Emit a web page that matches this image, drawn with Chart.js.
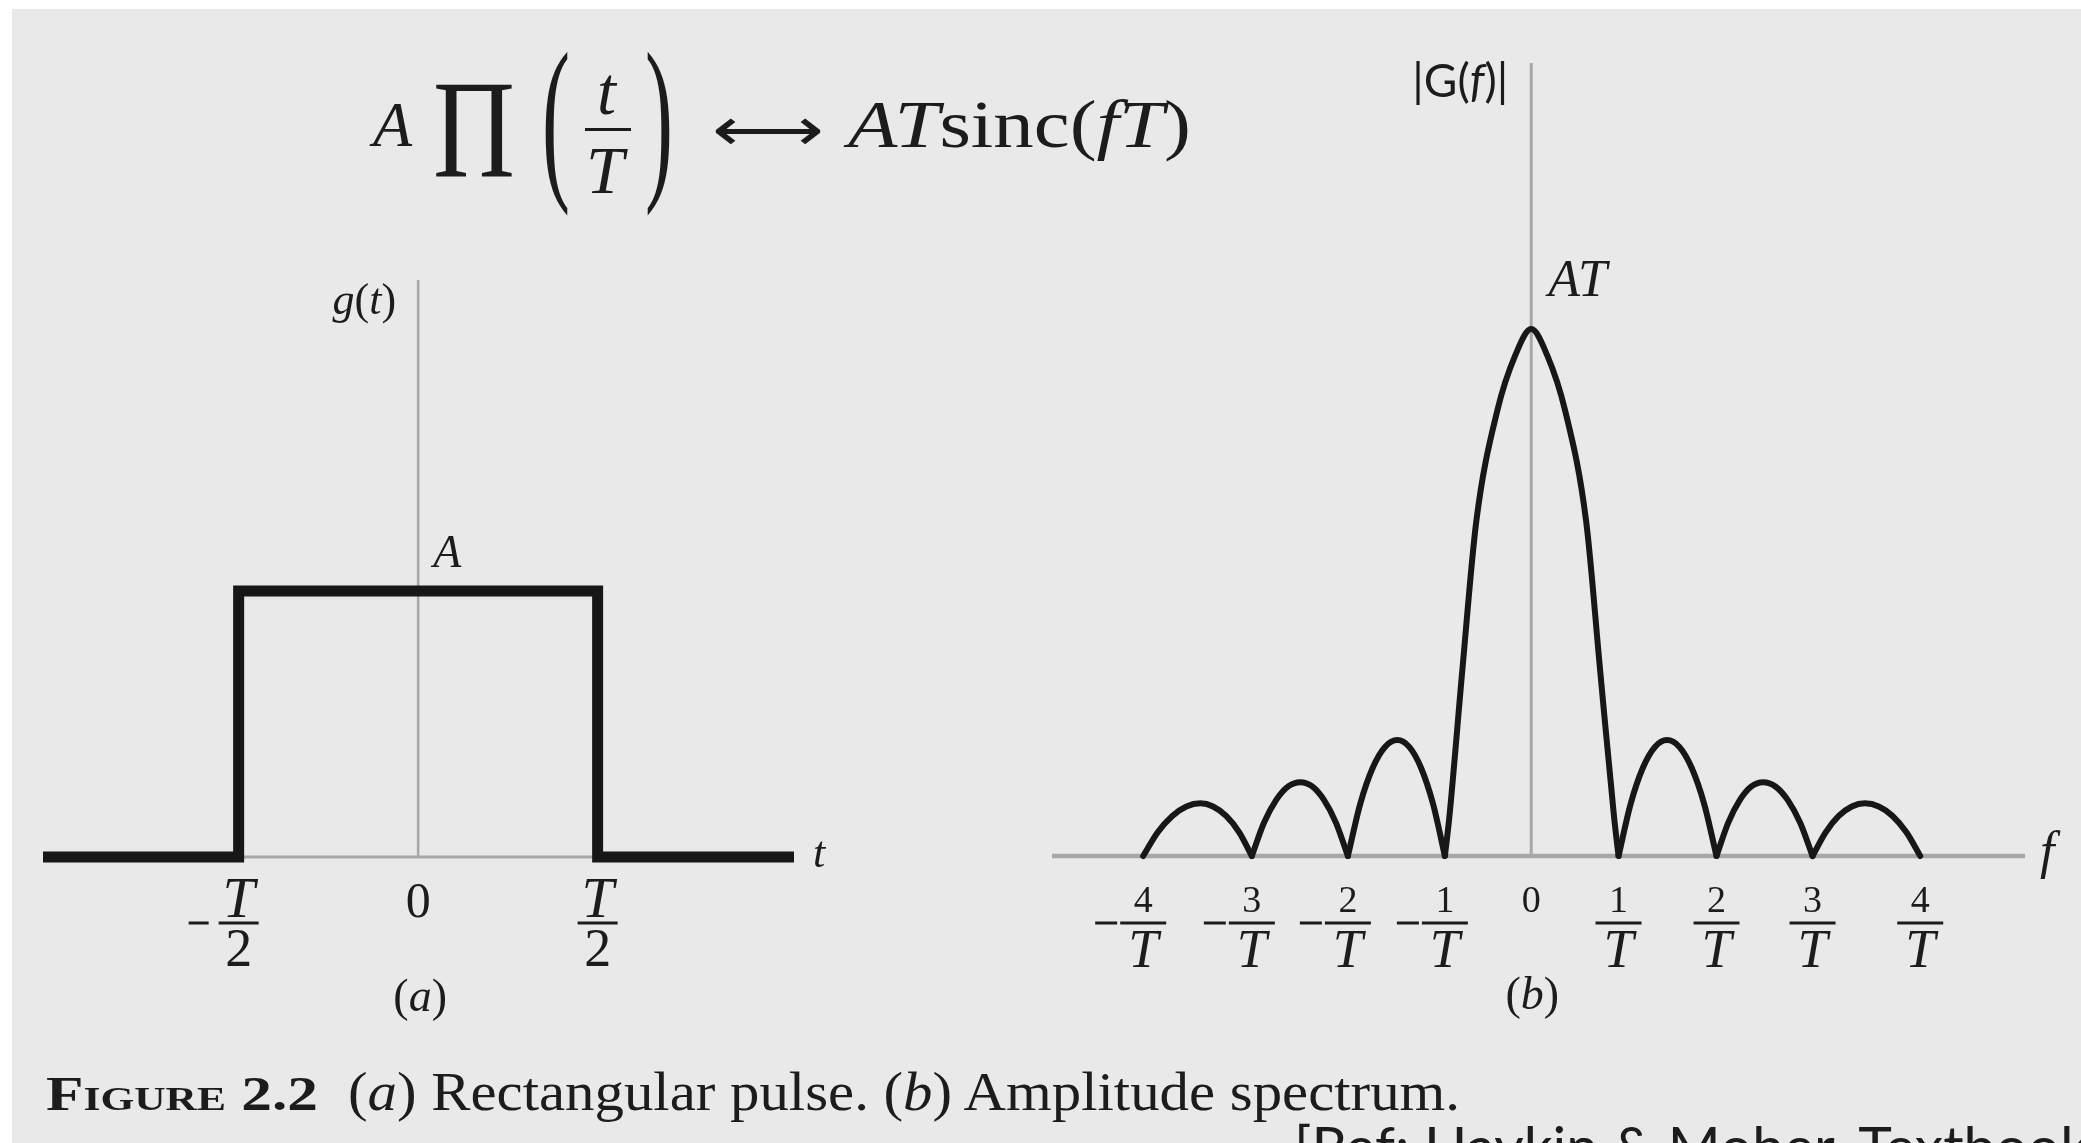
<!DOCTYPE html>
<html>
<head>
<meta charset="utf-8">
<script src="https://cdn.jsdelivr.net/npm/chart.js@4.4.1/dist/chart.umd.min.js"></script>
<style>
  html, body { margin: 0; padding: 0; }
  body { width: 2081px; height: 1143px; overflow: hidden; background: #fff; position: relative; }
  #paper { position: absolute; left: 12px; top: 9px; right: 0; bottom: 0; background: #e9e9e9; }
  canvas { position: absolute; top: 0; }
  #pulse { left: 0; }
  #spectrum { left: 1000px; }
  .lbl { position: absolute; line-height: 0; white-space: nowrap; color: #1c1c1c; transform-origin: 0 0; }
  .bar { position: absolute; background: #1c1c1c; }
</style>
</head>
<body>
<div id="paper"></div>
<canvas id="pulse" width="1000" height="1143"></canvas>
<canvas id="spectrum" width="1081" height="1143"></canvas>
<script>
// ---- g(t): rectangular pulse, t in units of T, amplitude in units of A
const tRange = [-1.045, 1.047];
const gRange = [0, 2.17];
const tPoints = [-1.045, -0.5, -0.5, 0.5, 0.5, 1.047];
const gPoints = [0, 0, 1, 1, 0, 0];
const tTicks = [-0.5, 0, 0.5];
const tTickNum = ['T', '0', 'T'];
const tTickDen = ['2', '', '2'];
const tTickNeg = [true, false, false];

// ---- |G(f)|: amplitude spectrum, one list per lobe, height in units of AT
const fRange = [-4.94, 5.09];
const GRange = [0, 1.505];
const lobeF = [
  [-4.00, -3.85, -3.70, -3.555, -3.41, -3.28, -3.145, -3.01, -2.88],
  [-2.88, -2.755, -2.63, -2.505, -2.38, -2.2575, -2.135, -2.0125, -1.89],
  [-1.89, -1.7625, -1.635, -1.5075, -1.38, -1.2575, -1.135, -1.0125, -0.89],
  [-0.89, -0.845, -0.71, -0.567, -0.35, -0.165, 0, 0.165, 0.35, 0.567, 0.71, 0.855, 0.90],
  [0.90, 1.025, 1.15, 1.275, 1.40, 1.5275, 1.655, 1.7825, 1.91],
  [1.91, 2.03, 2.15, 2.27, 2.39, 2.5175, 2.645, 2.7725, 2.90],
  [2.90, 3.035, 3.17, 3.305, 3.44, 3.5825, 3.725, 3.8675, 4.01]
];
const lobeG = [
  [0, 0.045, 0.076, 0.094, 0.100, 0.094, 0.076, 0.045, 0],
  [0, 0.063, 0.106, 0.132, 0.140, 0.132, 0.106, 0.063, 0],
  [0, 0.099, 0.167, 0.207, 0.220, 0.207, 0.167, 0.099, 0],
  [0, 0.072, 0.353, 0.634, 0.845, 0.95, 1, 0.95, 0.845, 0.634, 0.353, 0.072, 0],
  [0, 0.099, 0.167, 0.207, 0.220, 0.207, 0.167, 0.099, 0],
  [0, 0.063, 0.106, 0.132, 0.140, 0.132, 0.106, 0.063, 0],
  [0, 0.045, 0.076, 0.094, 0.100, 0.094, 0.076, 0.045, 0]
];
const fTicks = [-4.00, -2.88, -1.89, -0.89, 0, 0.90, 1.91, 2.90, 4.01];
const fTickNum = ['4', '3', '2', '1', '0', '1', '2', '3', '4'];
const fTickDen = ['T', 'T', 'T', 'T', '', 'T', 'T', 'T', 'T'];
const fTickNeg = [true, true, true, true, false, false, false, false, false];

const ink = '#1c1c1c';
const curveInk = '#171717';
const axisGray = '#a7a7a7';
const SERIF = '"Liberation Serif", "Times New Roman", serif';

// draw several text runs (different fonts) one after another
function runs(ctx, parts, x, y, align) {
  let total = 0;
  parts.forEach(p => { ctx.font = p[1]; total += ctx.measureText(p[0]).width; });
  let cx = align === 'right' ? x - total : align === 'center' ? x - total / 2 : x;
  ctx.textAlign = 'left';
  ctx.textBaseline = 'alphabetic';
  ctx.fillStyle = ink;
  parts.forEach(p => { ctx.font = p[1]; ctx.fillText(p[0], cx, y); cx += ctx.measureText(p[0]).width; });
}

// stacked fraction tick label, bar centred on x
function frac(ctx, x, yBar, num, den, neg, s) {
  ctx.textAlign = 'center';
  ctx.textBaseline = 'alphabetic';
  ctx.fillStyle = ink;
  if (!den) {
    ctx.font = s.zeroFont;
    ctx.fillText(num, x, yBar - s.numGap);
    return;
  }
  ctx.font = s.numFont;
  ctx.fillText(num, x, yBar - s.numGap);
  ctx.font = s.denFont;
  ctx.fillText(den, x, yBar + s.denGap);
  ctx.fillRect(x - s.bar, yBar - 1.5, 2 * s.bar, 3);
  if (neg) ctx.fillRect(x - s.bar - s.minusGap - s.minusW, yBar - 1.5, s.minusW, 3);
}

// thin grey axes through the origin, under the curves
const axesPlugin = {
  id: 'axes',
  beforeDatasetsDraw(chart, args, opts) {
    const { ctx, chartArea: a } = chart;
    const x0 = chart.scales.x.getPixelForValue(0);
    const y0 = chart.scales.y.getPixelForValue(0);
    ctx.save();
    ctx.strokeStyle = axisGray;
    ctx.lineWidth = opts.h;
    ctx.beginPath(); ctx.moveTo(a.left, y0); ctx.lineTo(a.right, y0); ctx.stroke();
    ctx.lineWidth = opts.v;
    ctx.beginPath(); ctx.moveTo(x0, a.top); ctx.lineTo(x0, y0); ctx.stroke();
    ctx.restore();
  }
};

const pulseLabels = {
  id: 'pulseLabels',
  afterDraw(chart) {
    const { ctx, chartArea: a } = chart;
    const xs = chart.scales.x, ys = chart.scales.y;
    const x0 = xs.getPixelForValue(0), y0 = ys.getPixelForValue(0);
    ctx.save();
    runs(ctx, [['g', 'italic 44px ' + SERIF], ['(', '44px ' + SERIF], ['t', 'italic 44px ' + SERIF], [')', '44px ' + SERIF]], x0 - 22, y0 - 543, 'right');
    runs(ctx, [['A', 'italic 46px ' + SERIF]], x0 + 15, ys.getPixelForValue(1) - 24, 'left');
    runs(ctx, [['t', 'italic 44px ' + SERIF]], a.right + 19, y0 + 10, 'left');
    const s = { numFont: 'italic 58px ' + SERIF, denFont: '54px ' + SERIF, zeroFont: '50px ' + SERIF,
                numGap: 6, denGap: 43, bar: 20, minusGap: 10, minusW: 20 };
    tTicks.forEach((v, i) => frac(ctx, xs.getPixelForValue(v), y0 + 66, tTickNum[i], tTickDen[i], tTickNeg[i], s));
    runs(ctx, [['(', '46px ' + SERIF], ['a', 'italic 46px ' + SERIF], [')', '46px ' + SERIF]], x0 + 2, y0 + 154, 'center');
    ctx.restore();
  }
};

const spectrumLabels = {
  id: 'spectrumLabels',
  afterDraw(chart) {
    const { ctx, chartArea: a } = chart;
    const xs = chart.scales.x, ys = chart.scales.y;
    const x0 = xs.getPixelForValue(0), y0 = ys.getPixelForValue(0);
    const SANS = '"Lato", "Open Sans", sans-serif';
    ctx.save();
    runs(ctx, [['|G(', '46px ' + SANS], ['f', 'italic 46px ' + SANS], [')|', '46px ' + SANS]], x0 - 23, a.top + 34, 'right');
    runs(ctx, [['AT', 'italic 52px ' + SERIF]], x0 + 17, ys.getPixelForValue(1) - 33, 'left');
    runs(ctx, [['f', 'italic 52px ' + SERIF]], a.right + 15, y0 + 12, 'left');
    const s = { numFont: '38px ' + SERIF, denFont: 'italic 54px ' + SERIF, zeroFont: '38px ' + SERIF,
                numGap: 11, denGap: 44, bar: 23, minusGap: 3, minusW: 22 };
    fTicks.forEach((v, i) => frac(ctx, xs.getPixelForValue(v), y0 + 67, fTickNum[i], fTickDen[i], fTickNeg[i], s));
    runs(ctx, [['(', '46px ' + SERIF], ['b', 'italic 46px ' + SERIF], [')', '46px ' + SERIF]], x0 + 1, y0 + 153, 'center');
    ctx.restore();
  }
};

function baseOptions(xr, yr, pad, axisW) {
  return {
    responsive: false,
    animation: false,
    events: [],
    layout: { padding: pad },
    scales: {
      x: { type: 'linear', min: xr[0], max: xr[1], display: false },
      y: { type: 'linear', min: yr[0], max: yr[1], display: false }
    },
    plugins: { legend: { display: false }, tooltip: { enabled: false }, axes: axisW }
  };
}

new Chart(document.getElementById('pulse'), {
  type: 'line',
  data: {
    datasets: [{
      data: tPoints.map((t, i) => ({ x: t, y: gPoints[i] })),
      borderColor: curveInk,
      borderWidth: 11,
      borderJoinStyle: 'miter',
      borderCapStyle: 'butt',
      pointRadius: 0,
      tension: 0,
      clip: false
    }]
  },
  options: baseOptions(tRange, gRange, { left: 43, right: 206, top: 280, bottom: 286 }, { h: 3, v: 2.5 }),
  plugins: [axesPlugin, pulseLabels]
});

new Chart(document.getElementById('spectrum'), {
  type: 'line',
  data: {
    datasets: lobeF.map((fs, k) => ({
      data: fs.map((f, i) => ({ x: f, y: lobeG[k][i] })),
      borderColor: curveInk,
      borderWidth: 6,
      borderCapStyle: 'round',
      pointRadius: 0,
      cubicInterpolationMode: 'monotone',
      clip: false
    }))
  },
  options: baseOptions(fRange, GRange, { left: 52, right: 56, top: 63, bottom: 287 }, { h: 4.5, v: 3 }),
  plugins: [axesPlugin, spectrumLabels]
});

// ---- transform pair and caption as page text
const ASC = { serif: 0.3375, sans: 0.346, lato: 0.387 };
function place(html, x, base, size, family, asc, extra) {
  const el = document.createElement('div');
  el.className = 'lbl';
  el.innerHTML = html;
  el.style.fontFamily = family;
  el.style.fontSize = size + 'px';
  el.style.left = x + 'px';
  el.style.top = (base - asc * size) + 'px';
  Object.assign(el.style, (extra && extra.css) || {});
  document.body.appendChild(el);
  if (extra && extra.width) {
    const w = el.getBoundingClientRect().width;
    el.style.transform = 'scaleX(' + (extra.width / w) + ')';
  }
  return el;
}

place('<i>A</i>', 373, 147, 64, SERIF, ASC.serif);
place('&Pi;', 433, 177, 139, SERIF, ASC.serif, { width: 82 });
place('(', 542, 178, 180, SERIF, ASC.serif, { width: 28 });
place('<i>t</i>', 597, 114, 68, SERIF, ASC.serif);
const fb = document.createElement('div');
fb.className = 'bar';
Object.assign(fb.style, { left: '585px', top: '128px', width: '46px', height: '3px' });
document.body.appendChild(fb);
place('<i>T</i>', 586, 193, 68, SERIF, ASC.serif);
place(')', 645, 178, 180, SERIF, ASC.serif, { width: 28 });
place('&#x27F7;', 712, 150, 60, '"DejaVu Sans", sans-serif', ASC.sans, { width: 112 });
place('<i>AT</i>sinc(<i>fT</i>)', 848, 147, 68, SERIF, ASC.serif, { width: 343 });

place('<b style="font-variant:small-caps">Figure 2.2</b>', 46, 1110, 48, SERIF, ASC.serif, { width: 272 });
place('(<i>a</i>) Rectangular pulse. (<i>b</i>) Amplitude spectrum.', 348, 1110, 54, SERIF, ASC.serif, { width: 1112 });
place('[Ref: Haykin &amp; Moher, Textbook]', 1294, 1167, 57, '"Lato", sans-serif', ASC.lato);
</script>
</body>
</html>
